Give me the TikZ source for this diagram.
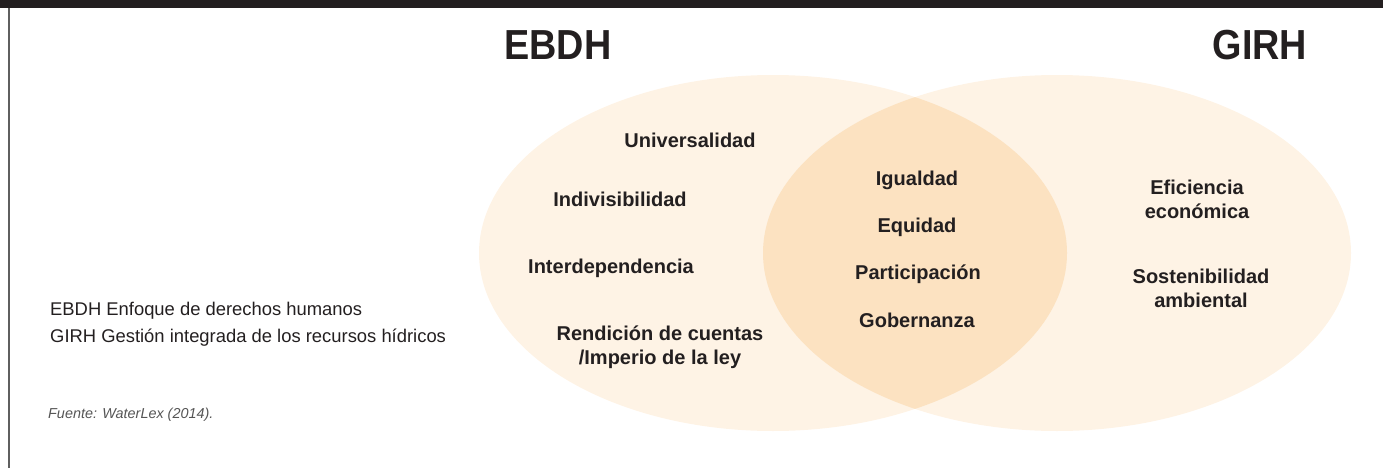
\documentclass[tikz,border=0pt]{standalone}
\usepackage{fontspec}
\setmainfont{Liberation Sans}
\newfontfamily\titlefont[FakeStretch=0.9]{Liberation Sans}
\usepackage{tikz}
\definecolor{barcol}{RGB}{35,31,32}
\definecolor{inkcol}{RGB}{35,31,32}
\definecolor{palecol}{RGB}{254,243,229}
\definecolor{lenscol}{RGB}{252,226,193}
\definecolor{notecol}{RGB}{85,85,85}
\definecolor{edgecol}{RGB}{95,95,95}
\tikzset{
  title/.style={inkcol, font=\titlefont\bfseries\fontsize{42}{46}\selectfont, anchor=base},
  item/.style={inkcol, font=\bfseries\fontsize{20}{24}\selectfont, align=center, anchor=base, inner sep=0pt},
  legend/.style={inkcol, font=\fontsize{18.4}{22}\selectfont, anchor=base west, inner sep=0pt},
}

\begin{document}
\begin{tikzpicture}[x=1pt, y=-1pt]
        \useasboundingbox (0,0) rectangle (1383,468);
        \fill [barcol] (0,0) rectangle (1383,8);
        \draw [line width=2pt, edgecol] (9,8) -- (9,468);
        % the two sets
        \fill [palecol] (773,253) ellipse [x radius=294, y radius=178];
        \fill [palecol] (1057,253) ellipse [x radius=294, y radius=178];
        \begin{scope}
            \clip (773,253) ellipse [x radius=294, y radius=178];
            \fill [lenscol] (1057,253) ellipse [x radius=294, y radius=178];
        \end{scope}
        \node [title] (ebdh) at (558,60) {EBDH};
        \node [title] (girh) at (1260,60) {GIRH};
        % left set
        \node [item] (univ) at (690,147) {Universalidad};
        \node [item] (indiv) at (620,206) {Indivisibilidad};
        \node [item] (inter) at (611,273) {Interdependencia};
        \node [item] (rend) at (660,364) {Rendición de cuentas\\/Imperio de la ley};
        % common part
        \node [item] (igual) at (917,185) {Igualdad};
        \node [item] (equi) at (917,232) {Equidad};
        \node [item] (part) at (918,279) {Participación};
        \node [item] (gober) at (917,327) {Gobernanza};
        % right set
        \node [item] (efic) at (1197,218) {Eficiencia\\económica};
        \node [item] (sost) at (1201,307) {Sostenibilidad\\ambiental};
        % legend and source
        \node [legend] (leg1) at (50,315) {EBDH Enfoque de derechos humanos};
        \node [legend] (leg2) at (50,342) {GIRH Gestión integrada de los recursos hídricos};
        \node [notecol, font=\itshape\fontsize{14.4}{17}\selectfont, anchor=base west, inner sep=0pt] (src) at (48,418) {Fuente: WaterLex (2014).};
    \end{tikzpicture}
\end{document}
